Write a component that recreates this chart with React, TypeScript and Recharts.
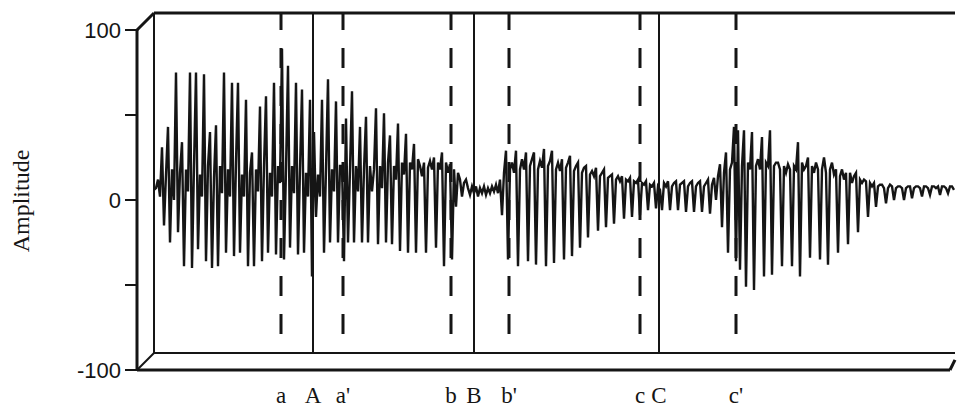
import { ComposedChart, Line, ReferenceLine, XAxis, YAxis } from "recharts";

// amplitude samples, one every 2 time units
const beforeA = [
  -4, -3, 2, -8, 21, -25, 5, 33, -35, 8,
  -10, 65, -29, 6, 24, -49, 8, -5, 65, -50,
  10, 65, -39, 5, -8, 64, -46, 10, 30, -50,
  3, 34, -49, 10, -6, 65, -41, 8, -8, 59,
  -43, 12, 59, -41, 5, -8, 49, -49, 6, 18,
  -49, 8, -5, 45, -46, 10, 51, -41, 6, -8,
  59, -42, 10, 0, 79, -45, 8, 69, -38, 10,
  -6, 59, -42, 8, 55, -41, 6, -8, 49, -55,
];
const aToB = [
  30, -20, 5, -8, 49, -41, 8, 61, -35, 8,
  -5, 48, -35, 10, 10, -46, 38, -35, 8, 54,
  -35, 10, -5, 33, -35, 8, 39, -35, 10, -5,
  8, 44, -36, 10, -3, 41, -35, 12, 28, -36,
  10, 2, 35, -40, 12, 5, 29, -41, 12, 8,
  23, -41, 14, 10, 4, 12, -41, 9, 13, 8,
  15, -38, 12, 8, 18, -49, 12, 6, 11, -45,
  8, -14, 6, 2, -8, 0, 2, -3, -7, -2,
];
const bToC = [
  -6, -2, -8, -3, -6, -2, -7, -3, -6, -2,
  -5, -1, -6, 2, -19, 6, 19, -45, 8, 12,
  6, 19, -49, 8, 14, 8, 18, -46, 10, 14,
  18, -48, 8, 13, 9, 20, -49, 10, 13, 19,
  -47, 8, 12, 7, 14, -45, 9, 12, 16, -43,
  7, 10, 12, -38, 6, 9, 10, -32, 5, 7,
  4, 9, -28, 4, 6, 8, -26, 3, 4, 5,
  -24, 2, 4, 1, 4, -21, 2, 1, 3, -20,
  1, 0, 2, -19, 0, -1, 1, -16, -1, -2,
  0, -15, -2,
];
const afterC = [
  -4, -16, 0, -2, 1, -16, -2, 0, 1, -16,
  -1, 0, 1, -17, -2, 0, 1, -17, -2, 0,
  1, -17, -2, 0, 2, -18, -1, 3, -10, 4,
  11, -26, 6, 18, -41, 8, 12, 33, -46, 31,
  -51, 10, 31, -61, 12, 8, 30, -63, 10, 14,
  8, 27, -55, 12, 10, 31, -54, 10, 12, 12,
  8, -49, 10, 6, 11, 8, -49, 10, 8, 24,
  -55, 12, 8, 10, 15, -44, 10, 6, 12, 8,
  -45, 8, 15, 6, -48, 8, 12, 5, 8, -41,
  4, 8, 2, 6, -36, 6, 0, 4, 6, -29,
  2, 0, 2, 1, -20, 0, -2, 0, -14, -2,
  -1, -1, -3, -12, -3, -1, -2, -10, -3, -2,
  -2, -3, -10, -3, -2, -2, -9, -3, -2, -2,
  -3, -8, -2, -2, -3, -7, -2, -2, -3, -2,
  -7, -2, -2, -3, -6, -2, -2, -4,
];

const markerTimes = [127, 159, 189, 297, 320, 355, 486, 505, 582];
const markerLabels = ["a", "A", "a'", "b", "B", "b'", "c", "C", "c'"];
const markerSolid = [false, true, false, false, true, false, false, true, false];
const amplitudeTicks = [-100, -50, 0, 50, 100];

const SAMPLE_STEP = 2;
const T_END = 801;
const DEPTH_T = 17; // 3-d box offset, time units
const DEPTH_A = 10; // 3-d box offset, amplitude units

const ink = "#151515";

export default function App() {
  const wave = [...beforeA, ...aToB, ...bToC, ...afterC].map((amp, i) => ({
    t: i * SAMPLE_STEP,
    amp,
  }));

  const lo = -100 - DEPTH_A;
  const frame = [
    { seg: [{ x: -DEPTH_T, y: 100 - DEPTH_A }, { x: -DEPTH_T, y: lo }], w: 3 },
    { seg: [{ x: -DEPTH_T, y: 100 - DEPTH_A }, { x: 0, y: 100 }], w: 3 },
    { seg: [{ x: 0, y: 100 }, { x: T_END, y: 100 }], w: 3 },
    { seg: [{ x: 0, y: 100 }, { x: 0, y: -100 }], w: 2 },
    { seg: [{ x: 0, y: -100 }, { x: T_END, y: -100 }], w: 2 },
    { seg: [{ x: -DEPTH_T, y: lo }, { x: 0, y: -100 }], w: 2 },
    { seg: [{ x: -DEPTH_T, y: lo }, { x: T_END - 5, y: lo }], w: 3 },
    { seg: [{ x: T_END - 5, y: lo }, { x: T_END, y: -104 }], w: 3 },
  ];

  return (
    <div style={{ position: "absolute", left: 0, top: 0 }}>
      <ComposedChart
        width={957}
        height={408}
        data={wave}
        margin={{ top: 13, right: 2, bottom: 0, left: 0 }}
      >
        <XAxis
          dataKey="t"
          type="number"
          domain={[-DEPTH_T, T_END]}
          ticks={markerTimes}
          tickFormatter={(_v: number, i: number) => markerLabels[i]}
          interval={0}
          height={38}
          axisLine={false}
          tickLine={false}
          tickSize={0}
          tickMargin={17}
          tick={{ fill: ink, fontSize: 23, fontFamily: "Liberation Serif" }}
        />
        <YAxis
          yAxisId="front"
          type="number"
          domain={[-100, 100 + DEPTH_A]}
          allowDataOverflow
          ticks={amplitudeTicks}
          interval={0}
          width={137}
          axisLine={false}
          tickSize={12}
          tickMargin={4}
          tickLine={{ stroke: ink, strokeWidth: 2 }}
          tickFormatter={(v: number) => (v === 50 || v === -50 ? "" : String(v))}
          tick={{ fill: ink, fontSize: 22, fontFamily: "Liberation Sans" }}
          label={{
            position: "center",
            content: () => (
              <text
                transform="translate(21 201) rotate(-90)"
                textAnchor="middle"
                dominantBaseline="central"
                fill={ink}
                fontSize={24}
                fontFamily="Liberation Serif"
              >
                Amplitude
              </text>
            ),
          }}
        />
        <YAxis yAxisId="wave" type="number" domain={[lo, 100]} allowDataOverflow hide />

        {markerTimes.map((t, i) =>
          markerSolid[i] ? (
            <ReferenceLine
              key={markerLabels[i]}
              yAxisId="wave"
              segment={[{ x: t, y: 100 }, { x: t, y: -100 }]}
              stroke={ink}
              strokeWidth={2}
            />
          ) : (
            <ReferenceLine
              key={markerLabels[i]}
              yAxisId="wave"
              segment={[{ x: t, y: 100 }, { x: t, y: -92 }]}
              stroke={ink}
              strokeWidth={3}
              strokeDasharray="20 18"
              strokeDashoffset={3}
            />
          )
        )}
        {frame.map((f, i) => (
          <ReferenceLine
            key={`frame-${i}`}
            yAxisId="wave"
            segment={f.seg}
            stroke={ink}
            strokeWidth={f.w}
          />
        ))}

        {/* same trace bound to the front axis, invisible, so that axis gets ticks */}
        <Line
          yAxisId="front"
          dataKey="amp"
          stroke="none"
          dot={false}
          activeDot={false}
          legendType="none"
          isAnimationActive={false}
        />
        <Line
          yAxisId="wave"
          dataKey="amp"
          type="linear"
          stroke={ink}
          strokeWidth={2.4}
          dot={false}
          activeDot={false}
          isAnimationActive={false}
        />
      </ComposedChart>
    </div>
  );
}
